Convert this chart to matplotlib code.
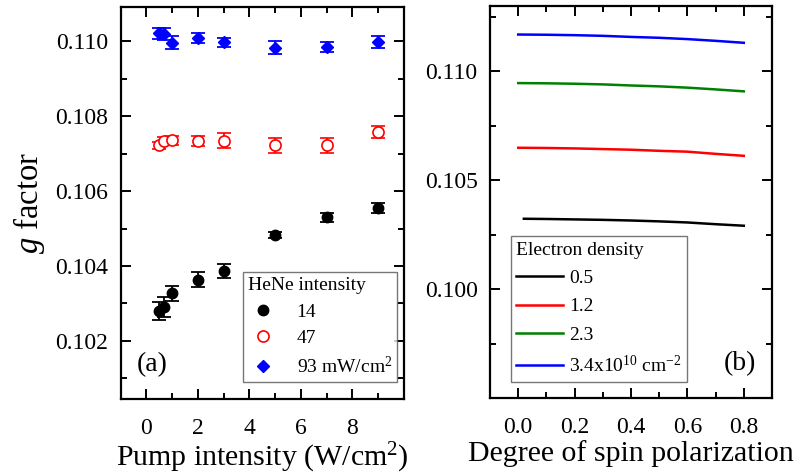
import matplotlib
matplotlib.use("Agg")
import matplotlib.pyplot as plt
from matplotlib.lines import Line2D
from matplotlib.ticker import MultipleLocator, FixedLocator, FormatStrFormatter

plt.rcParams['font.family'] = ['Liberation Serif', 'DejaVu Serif']
plt.rcParams['mathtext.fontset'] = 'custom'
plt.rcParams['mathtext.rm'] = 'Liberation Serif'
plt.rcParams['mathtext.it'] = 'Liberation Serif:italic'

# ---- (a) measured g factor vs pump intensity ----
pump = [0.5, 0.7, 1, 2, 3, 5, 7, 9]

g14 = [0.10280, 0.10291, 0.10327, 0.10363, 0.10387, 0.10483, 0.10530, 0.10555]
e14 = [0.00024, 0.00027, 0.00020, 0.00020, 0.00018, 0.00009, 0.000125, 0.00014]

g47 = [0.10722, 0.10733, 0.10736, 0.10734, 0.10734, 0.10722, 0.10722, 0.10757]
e47 = [0.00010, 0.00010, 0.00012, 0.00014, 0.00020, 0.00020, 0.00020, 0.000165]

g93 = [0.11021, 0.11019, 0.10996, 0.11009, 0.10997, 0.10983, 0.10985, 0.10997]
e93 = [0.000155, 0.00015, 0.00018, 0.00014, 0.00012, 0.00017, 0.00013, 0.00016]

hene_labels = ['14', '47', '93 mW/cm$^2$']

# ---- (b) calculated g factor vs spin polarization ----
pol = [0.0, 0.1, 0.2, 0.3, 0.4, 0.5, 0.6, 0.7, 0.8]
pol_low = [0.02, 0.1, 0.2, 0.3, 0.4, 0.5, 0.6, 0.7, 0.8]
g_n05 = [0.10323, 0.10322, 0.10320, 0.10318, 0.10315, 0.10311, 0.10306, 0.10298, 0.10291]
g_n12 = [0.10649, 0.10648, 0.10646, 0.10643, 0.10640, 0.10635, 0.10631, 0.10621, 0.10612]
g_n23 = [0.10946, 0.10945, 0.10943, 0.10940, 0.10935, 0.10931, 0.10925, 0.10917, 0.10908]
g_n34 = [0.11169, 0.11168, 0.11166, 0.11163, 0.11158, 0.11154, 0.11148, 0.11140, 0.11131]
density_labels = ['0.5', '1.2', '2.3', '3.4x10$^{10}$ cm$^{-2}$']

fig = plt.figure(figsize=(8.02, 4.76), dpi=100)
axa = fig.add_axes([0.1505, 0.1618, 0.3532, 0.8241])
axb = fig.add_axes([0.611, 0.1639, 0.3516, 0.8235])

tick_fs = 17
label_fs = 21.5
leg_fs = 14


def style_axes(ax):
    for s in ax.spines.values():
        s.set_linewidth(1.6)
    ax.tick_params(which='both', direction='in', top=True, right=True,
                   labelsize=tick_fs, width=1.4)
    ax.tick_params(axis='y', pad=9)
    ax.tick_params(axis='x', pad=14)
    ax.tick_params(which='major', length=7)
    ax.tick_params(which='minor', length=4)


cap = 5
kw = dict(linestyle='none', elinewidth=1.3, capsize=cap, capthick=1.3)
axa.errorbar(pump, g14, yerr=e14, marker='o', ms=7.5, color='black', **kw)
axa.errorbar(pump, g47, yerr=e47, marker='o', ms=8, color='red',
             mfc='white', mec='red', mew=1.2, **kw)
axa.errorbar(pump, g93, yerr=e93, marker='D', ms=6.5, color='blue', **kw)

axa.set_xlim(-1, 10)
axa.set_ylim(0.10045, 0.11092)
axa.xaxis.set_major_locator(FixedLocator([0, 2, 4, 6, 8]))
axa.xaxis.set_minor_locator(FixedLocator([-1, 1, 3, 5, 7, 9]))
axa.yaxis.set_major_locator(MultipleLocator(0.002))
axa.yaxis.set_minor_locator(MultipleLocator(0.001))
axa.yaxis.set_major_formatter(FormatStrFormatter('%.3f'))
style_axes(axa)
axa.set_xlabel('Pump intensity (W/cm$^2$)', fontsize=label_fs, labelpad=1)
axa.set_ylabel('$g$ factor', fontsize=23.5, labelpad=6)
axa.text(0.055, 0.07, '(a)', transform=axa.transAxes, fontsize=20)

handles_a = [
    Line2D([], [], linestyle='none', marker='o', ms=7.5, color='black'),
    Line2D([], [], linestyle='none', marker='o', ms=8, mfc='white', mec='red', mew=1.2),
    Line2D([], [], linestyle='none', marker='D', ms=6.5, color='blue'),
]
leg_a = axa.legend(handles_a, hene_labels, title='HeNe intensity',
                   loc='lower right', bbox_to_anchor=(0.975, 0.044),
                   borderaxespad=0, fontsize=leg_fs, title_fontsize=leg_fs,
                   fancybox=False, frameon=True, edgecolor='#555555',
                   handlelength=1.6, handletextpad=0.9, labelspacing=0.45,
                   borderpad=0.25)
leg_a._legend_box.align = 'left'
leg_a.get_frame().set_linewidth(1.0)

lw = 1.8
axb.plot(pol_low, g_n05, color='black', lw=lw, label=density_labels[0])
axb.plot(pol, g_n12, color='red', lw=lw, label=density_labels[1])
axb.plot(pol, g_n23, color='green', lw=lw, label=density_labels[2])
axb.plot(pol, g_n34, color='blue', lw=lw, label=density_labels[3])

axb.set_xlim(-0.1, 0.9)
axb.set_ylim(0.095, 0.1130)
axb.xaxis.set_major_locator(FixedLocator([0.0, 0.2, 0.4, 0.6, 0.8]))
axb.xaxis.set_minor_locator(FixedLocator([0.1, 0.3, 0.5, 0.7]))
axb.yaxis.set_major_locator(FixedLocator([0.100, 0.105, 0.110]))
axb.yaxis.set_minor_locator(FixedLocator([0.0975, 0.1025, 0.1075, 0.1125]))
axb.xaxis.set_major_formatter(FormatStrFormatter('%.1f'))
axb.yaxis.set_major_formatter(FormatStrFormatter('%.3f'))
style_axes(axb)
axb.set_xlabel('Degree of spin polarization', fontsize=label_fs, labelpad=1)
axb.text(0.83, 0.07, '(b)', transform=axb.transAxes, fontsize=20)

leg_b = axb.legend(title='Electron density', loc='lower left',
                   bbox_to_anchor=(0.073, 0.042), borderaxespad=0,
                   fontsize=leg_fs, title_fontsize=leg_fs,
                   fancybox=False, frameon=True, edgecolor='#555555',
                   handlelength=2.4, handletextpad=0.3, labelspacing=0.55,
                   borderpad=0.3)
leg_b._legend_box.align = 'left'
leg_b.get_frame().set_linewidth(1.0)

fig.savefig('out.png', dpi=100)
